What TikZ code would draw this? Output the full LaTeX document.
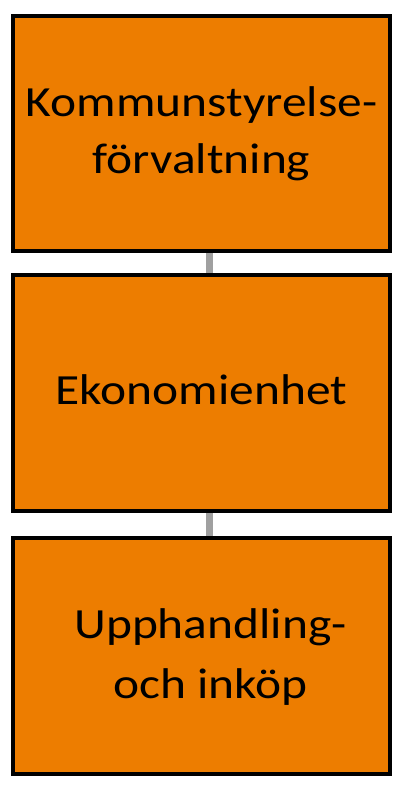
\documentclass[tikz,border=0pt]{standalone}
\usepackage{fontspec}
\setmainfont{Carlito}[FakeStretch=1.15]
\definecolor{boxorange}{RGB}{237,125,0}
\definecolor{linkgray}{RGB}{160,160,160}
\begin{document}
\begin{tikzpicture}[x=1pt,y=-1pt,
  orgbox/.style={draw=black,fill=boxorange,line width=4pt,rectangle,
    minimum width=377pt,minimum height=236pt,inner sep=0pt,
    align=center,font=\fontsize{43}{57}\selectfont},
  link/.style={draw=linkgray,line width=7pt}]
\useasboundingbox (0,0) rectangle (404,787);
\node[orgbox,minimum height=235pt] (b1) at (201.5,133.5) {\raisebox{5pt}{\begin{tabular}{@{}c@{}}Kommunstyrelse-\\förvaltning\end{tabular}}};
\node[orgbox] (b2) at (201.5,393) {\raisebox{7pt}{Ekonomienhet}};
\node[orgbox,font=\fontsize{43}{60}\selectfont] (b3) at (201.5,656) {\raisebox{-2pt}{\begin{tabular}{@{}c@{}}\hspace*{18pt}Upphandling-\\\hspace*{18pt}och inköp\end{tabular}}};
\draw[link] ([xshift=7.5pt]b1.south) -- ([xshift=7.5pt]b2.north);
\draw[link] ([xshift=7.5pt]b2.south) -- ([xshift=7.5pt]b3.north);
\end{tikzpicture}
\end{document}
